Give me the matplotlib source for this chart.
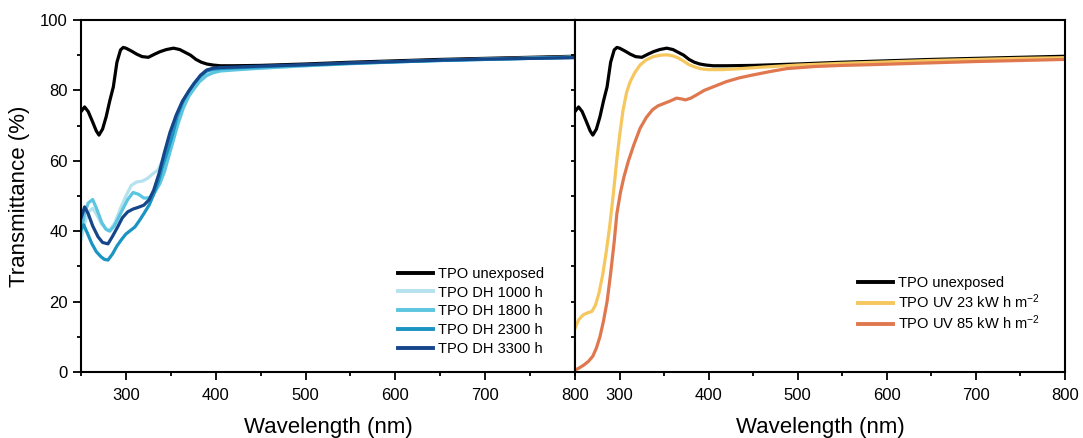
import matplotlib
matplotlib.use("Agg")
import matplotlib.pyplot as plt
from matplotlib.ticker import MultipleLocator

plt.rcParams['font.family'] = ['Liberation Sans', 'DejaVu Sans']
plt.rcParams['mathtext.fontset'] = 'custom'
plt.rcParams['mathtext.rm'] = 'Liberation Sans'
plt.rcParams['mathtext.it'] = 'Liberation Sans'

# ---------------- data ----------------
wl_unexp = [250, 254, 258, 263, 267, 270, 274, 278, 282, 286, 290, 294, 297, 300, 306,
            312, 318, 325, 332, 338, 345, 353, 360, 366, 372, 378, 384, 390, 397, 405,
            420, 450, 500, 550, 600, 650, 700, 750, 800]
t_unexp = [74, 75.3, 74, 71, 68.5, 67.3, 69, 72.5, 77, 81, 88, 91.5, 92.2, 92, 91.2,
           90.3, 89.6, 89.4, 90.3, 91, 91.6, 92, 91.6, 90.8, 90, 88.8, 88, 87.5, 87.2, 87,
           87, 87.1, 87.5, 88, 88.4, 88.8, 89.1, 89.4, 89.7]

wl_dh1000 = [250, 254, 258, 263, 268, 273, 278, 282, 288, 294, 300, 306, 312, 318, 324,
             330, 336, 342, 348, 355, 362, 370, 378, 386, 394, 402, 420, 450, 500, 550,
             600, 650, 700, 750, 800]
t_dh1000 = [37.5, 42, 45.5, 46.5, 44.5, 42, 40.6, 40.3, 42.5, 46.5, 50, 53, 54, 54.2, 55,
            56.3, 57.5, 61, 66, 71.5, 76, 79.5, 82, 84, 85.3, 85.8, 86, 86.4, 87, 87.6,
            88.1, 88.5, 88.9, 89.2, 89.5]

wl_dh1800 = [250, 254, 258, 263, 268, 273, 278, 282, 287, 292, 297, 302, 308, 314, 320,
             326, 332, 338, 343, 348, 353, 358, 364, 370, 376, 382, 390, 397, 405, 420,
             450, 500, 550, 600, 650, 700, 750, 800]
t_dh1800 = [40, 45, 48, 49, 46, 42.5, 40.5, 40, 41.5, 44, 46.5, 49, 51, 50.5, 49.4,
            49.5, 51, 53.6, 57, 61.5, 66, 70.5, 75, 78.3, 80.5, 82.5, 84.2, 85, 85.5, 85.8,
            86.3, 87, 87.6, 88.1, 88.5, 88.8, 89.1, 89.4]

wl_dh2300 = [250, 253, 257, 262, 267, 272, 276, 280, 285, 290, 295, 300, 305, 310, 315,
             320, 326, 331, 336, 341, 346, 352, 357, 363, 370, 376, 383, 390, 397, 405,
             420, 450, 500, 550, 600, 650, 700, 750, 800]
t_dh2300 = [40.5, 41.8, 39.5, 36.5, 34.2, 32.8, 32, 31.8, 33.5, 35.8, 37.6, 39.2, 40.2, 41.2, 43,
            45, 47.5, 50.5, 54, 58.5, 62.5, 67.5, 72.5, 76.5, 79.8, 82, 84, 85.5, 86, 86.2,
            86.4, 86.7, 87.2, 87.7, 88.1, 88.5, 88.8, 89.1, 89.4]

wl_dh3300 = [250, 254, 258, 263, 269, 274, 280, 285, 291, 296, 302, 308, 314, 320, 326,
             331, 337, 343, 349, 356, 363, 370, 376, 383, 390, 397, 405, 420, 450, 500,
             550, 600, 650, 700, 750, 800]
t_dh3300 = [43.7, 46.9, 45, 41.5, 38.4, 36.8, 36.4, 38.5, 41.3, 43.8, 45.5, 46.3, 46.8, 47.4, 49,
            51.7, 56.5, 62.5, 68, 73, 77, 79.8, 82, 84.3, 85.8, 86.3, 86.5, 86.6, 86.9, 87.3,
            87.8, 88.2, 88.6, 88.9, 89.1, 89.3]

wl_uv23 = [250, 254, 259, 264, 269, 273, 277, 281, 285, 289, 293, 297, 300, 304, 308,
           312, 317, 323, 330, 338, 346, 353, 360, 366, 372, 378, 385, 392, 400, 415,
           431, 460, 500, 550, 600, 650, 700, 750, 800]
t_uv23 = [12.4, 14.8, 16.2, 16.8, 17.2, 19, 22.5, 27.5, 34, 41.5, 50.5, 60.5, 67, 74.5, 79.5,
          82.5, 85, 87.2, 88.7, 89.6, 90, 90.1, 89.8, 89.2, 88.3, 87.3, 86.6, 86.1, 85.9, 85.9,
          86.1, 86.6, 87.2, 87.7, 88.1, 88.5, 88.8, 89.1, 89.3]

wl_uv85 = [250, 255, 260, 265, 270, 274, 278, 282, 286, 290, 294, 297, 301, 305, 310,
           316, 323, 330, 337, 343, 350, 357, 364, 369, 374, 380, 387, 395, 405, 420,
           435, 450, 470, 488, 520, 550, 581, 620, 660, 700, 750, 800]
t_uv85 = [0.5, 1.2, 2, 3, 4.5, 6.8, 10, 14.5, 20, 28, 37, 45, 51, 55.5, 60,
          64.5, 69.2, 72.3, 74.5, 75.6, 76.3, 77, 77.8, 77.6, 77.3, 77.8, 78.8, 80, 81, 82.5,
          83.6, 84.4, 85.4, 86.2, 86.8, 87.1, 87.3, 87.6, 87.9, 88.2, 88.5, 88.8]

labels_left = ['TPO unexposed', 'TPO DH 1000 h', 'TPO DH 1800 h', 'TPO DH 2300 h', 'TPO DH 3300 h']
labels_right = ['TPO unexposed', 'TPO UV 23 kW h m$^{-2}$', 'TPO UV 85 kW h m$^{-2}$']
xticks = [300, 400, 500, 600, 700, 800]
yticks = [0, 20, 40, 60, 80, 100]

c_black = '#000000'
c_dh = ['#b5e2ee', '#5cc5df', '#1b93c3', '#16468a']
c_uv = ['#f5c75e', '#e0784f']

# ---------------- figure ----------------
W, H = 1083, 438
fig = plt.figure(figsize=(W / 100, H / 100), dpi=100)
ax1 = fig.add_axes([81 / W, 66 / H, 494 / W, 352 / H])
ax2 = fig.add_axes([575 / W, 66 / H, 490 / W, 352 / H])

lw = 2.3
ax1.plot(wl_unexp, t_unexp, color=c_black, lw=lw, label=labels_left[0])
for wl, t, c, lab in zip([wl_dh1000, wl_dh1800, wl_dh2300, wl_dh3300],
                         [t_dh1000, t_dh1800, t_dh2300, t_dh3300], c_dh, labels_left[1:]):
    ax1.plot(wl, t, color=c, lw=lw, label=lab)

ax2.plot(wl_unexp, t_unexp, color=c_black, lw=lw, label=labels_right[0])
ax2.plot(wl_uv23, t_uv23, color=c_uv[0], lw=lw, label=labels_right[1])
ax2.plot(wl_uv85, t_uv85, color=c_uv[1], lw=lw, label=labels_right[2])

for ax in (ax1, ax2):
    ax.set_xlim(250, 800)
    ax.set_ylim(0, 100)
    ax.set_xticks(xticks)
    ax.xaxis.set_minor_locator(MultipleLocator(50))
    ax.set_yticks(yticks)
    ax.yaxis.set_minor_locator(MultipleLocator(10))
    for s in ax.spines.values():
        s.set_linewidth(1.5)
    ax.tick_params(axis='both', which='major', direction='out', length=5.5, width=1.3,
                   labelsize=12, pad=4)
    ax.tick_params(axis='x', which='major', pad=6)
    ax.tick_params(axis='both', which='minor', direction='out', length=3, width=1.3)
    ax.set_xlabel('Wavelength (nm)', fontsize=16, labelpad=10)

ax2.tick_params(axis='y', which='both', labelleft=False)
ax2.tick_params(axis='y', which='major', length=3)
ax1.set_ylabel('Transmittance (%)', fontsize=16, labelpad=7)

leg_kw = dict(frameon=False, fontsize=10.5, handlelength=2.4, handletextpad=0.3,
              borderpad=0, borderaxespad=0, loc='upper left')
l1 = ax1.legend(bbox_to_anchor=(0.642, 0.299), labelspacing=0.33, **leg_kw)
l2 = ax2.legend(bbox_to_anchor=(0.578, 0.272), labelspacing=0.17, **leg_kw)
for leg in (l1, l2):
    for line in leg.get_lines():
        line.set_linewidth(2.8)

fig.savefig('out.png', dpi=100)
